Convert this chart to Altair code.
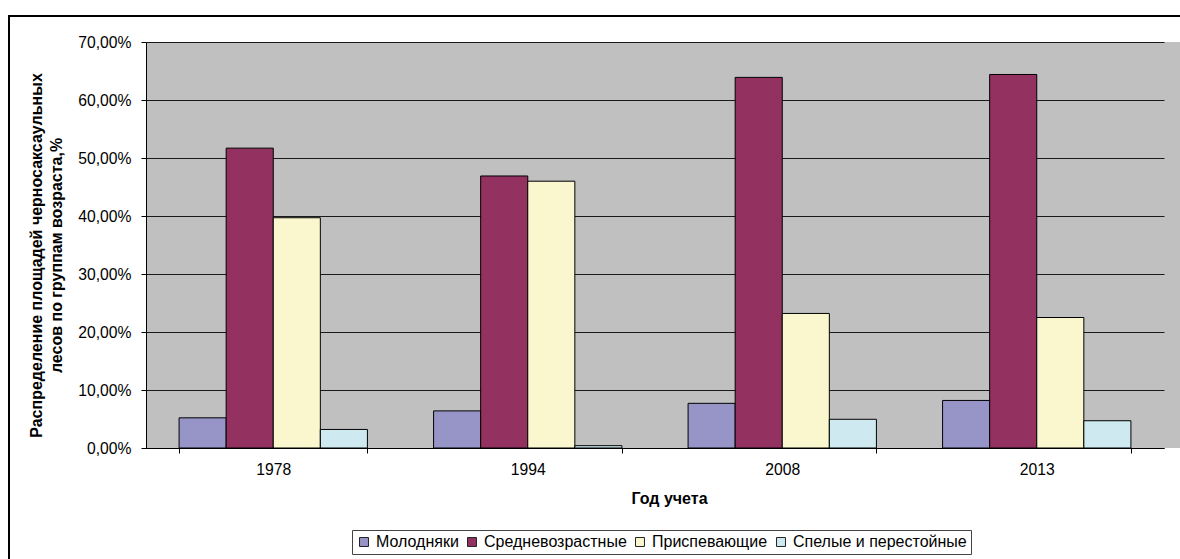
import altair as alt
import pandas as pd

years = ["1978", "1994", "2008", "2013"]
groups = ["Молодняки", "Средневозрастные", "Приспевающие", "Спелые и перестойные"]
molodnyaki = [5.2, 6.4, 7.7, 8.2]
srednevozr = [51.7, 46.9, 63.9, 64.4]
prispev = [39.7, 46.0, 23.2, 22.5]
spelye = [3.2, 0.4, 4.95, 4.7]
colors = ["#9794C8", "#933160", "#FAF7CF", "#CEEAF0"]
y_ticks = [0, 0.1, 0.2, 0.3, 0.4, 0.5, 0.6, 0.7]

rows = []
for series_name, vals in zip(groups, [molodnyaki, srednevozr, prispev, spelye]):
    for yr, v in zip(years, vals):
        rows.append({"year": yr, "group": series_name, "value": v / 100.0})
df = pd.DataFrame(rows)

FONT = "Liberation Sans"

bars = alt.Chart(df).mark_bar(stroke="black", strokeWidth=1).encode(
    x=alt.X("year:N", sort=years,
            scale=alt.Scale(range=[0, 1018], paddingInner=0.26, paddingOuter=0.13),
            axis=alt.Axis(title="Год учета", labelAngle=0, tickBand="extent",
                          labelFontSize=15.7, labelPadding=9, titleFontSize=16,
                          titleFontWeight="bold", titlePadding=14, titleX=523,
                          domainColor="black", tickColor="black", tickSize=5,
                          labelColor="black", titleColor="black", grid=False)),
    xOffset=alt.XOffset("group:N", sort=groups,
                        scale=alt.Scale(paddingInner=0, paddingOuter=0)),
    y=alt.Y("value:Q", scale=alt.Scale(domain=[0, 0.7], nice=False),
            axis=alt.Axis(values=y_ticks,
                          labelExpr="replace(format(datum.value, '.2%'), '.', ',')",
                          title=["Распределение площадей черносаксаульных",
                                 "лесов по группам возраста,%"],
                          titleFontSize=16, titleFontWeight="bold",
                          titleLineHeight=20, titleX=-102, titleY=213,
                          labelFontSize=15.7, labelPadding=10,
                          domainColor="black", tickColor="black", tickSize=5,
                          gridColor="#1a1a1a", gridWidth=1, labelColor="black",
                          titleColor="black")),
    color=alt.Color("group:N", sort=groups,
                    scale=alt.Scale(domain=groups, range=colors),
                    legend=alt.Legend(title=None, orient="none", direction="horizontal",
                                      legendX=206, legendY=488,
                                      symbolType="square", symbolSize=80,
                                      symbolStrokeColor="#222", symbolStrokeWidth=1,
                                      labelFontSize=16, labelColor="black",
                                      labelLimit=400,
                                      labelOffset=4, columnPadding=5,
                                      strokeColor="#444", padding=4,
                                      fillColor="white")),
)

frame = alt.Chart(alt.Data(values=[{}])).mark_rect(
    fill=None, stroke="black", strokeWidth=2
).encode(x=alt.value(-137), x2=alt.value(1200), y=alt.value(-26), y2=alt.value(600))

chart = alt.layer(bars, frame).properties(
    width=1034, height=406,
    autosize=alt.AutoSizeParams(type="none"),
    padding={"left": 146, "top": 42, "right": 0, "bottom": 111},
    background="white",
).configure(font=FONT, view=alt.ViewConfig(fill="#C0C0C0", stroke=None))

chart.save("out.html", embed_options={"renderer": "svg", "actions": False})
